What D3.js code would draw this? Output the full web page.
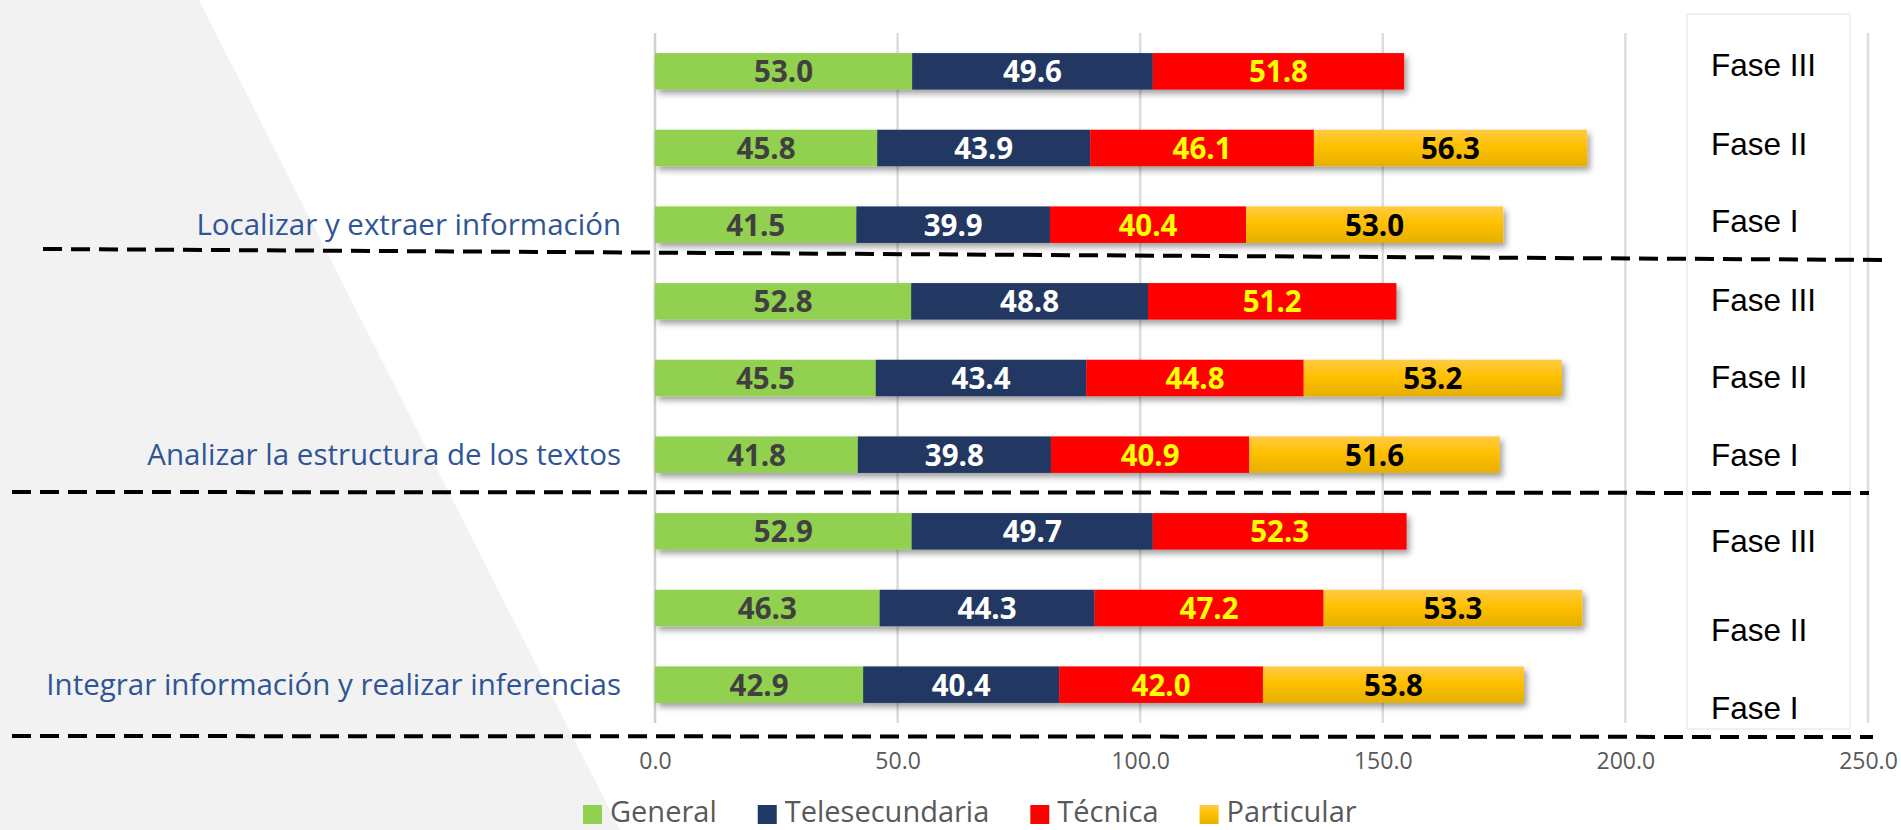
<!DOCTYPE html>
<html>
<head>
<meta charset="utf-8">
<script src="https://cdn.jsdelivr.net/npm/d3@7"></script>
<style>
  body { margin: 0; background: #fff; }
  svg { display: block; }
</style>
</head>
<body>
<svg id="chart"></svg>
<script>
'use strict';

var categories = ['Localizar y extraer información', 'Analizar la estructura de los textos', 'Integrar información y realizar inferencias'];
var phases = ['Fase III', 'Fase II', 'Fase I'];
var series = ['General', 'Telesecundaria', 'Técnica', 'Particular'];

// one value per row, top to bottom (Fase III, II, I of each category)
var general        = [53.0, 45.8, 41.5, 52.8, 45.5, 41.8, 52.9, 46.3, 42.9];
var telesecundaria = [49.6, 43.9, 39.9, 48.8, 43.4, 39.8, 49.7, 44.3, 40.4];
var tecnica        = [51.8, 46.1, 40.4, 51.2, 44.8, 40.9, 52.3, 47.2, 42.0];
var particular     = [null, 56.3, 53.0, null, 53.2, 51.6, null, 53.3, 53.8];

var xTicks = [0, 50, 100, 150, 200, 250];

var colors = { 'General': '#92D050', 'Telesecundaria': '#203864', 'Técnica': '#FF0000', 'Particular': 'url(#gold)' };
var labelColors = { 'General': '#404040', 'Telesecundaria': '#FFFFFF', 'Técnica': '#FFFF00', 'Particular': '#000000' };

var width = 1901;
var height = 830;
var font = '"Open Sans", sans-serif';

var svg = d3.select('#chart')
  .attr('width', width)
  .attr('height', height);

var defs = svg.append('defs');

var gold = defs.append('linearGradient')
  .attr('id', 'gold')
  .attr('x1', 0).attr('y1', 0).attr('x2', 0).attr('y2', 1);
gold.append('stop').attr('offset', '0%').attr('stop-color', '#FFCB45');
gold.append('stop').attr('offset', '45%').attr('stop-color', '#FFC000');
gold.append('stop').attr('offset', '100%').attr('stop-color', '#E6AF00');

var shadow = defs.append('filter')
  .attr('id', 'shadow')
  .attr('x', -0.05).attr('y', -0.5)
  .attr('width', 1.1).attr('height', 2);
shadow.append('feDropShadow')
  .attr('dx', 3).attr('dy', 4)
  .attr('stdDeviation', 3)
  .attr('flood-color', '#000')
  .attr('flood-opacity', 0.38);

// rows: category x phase
var rows = [];
categories.forEach(function(cat, c) {
  phases.forEach(function(phase, p) {
    var i = c * phases.length + p;
    rows.push({
      index: i,
      category: cat,
      phase: phase,
      'General': general[i],
      'Telesecundaria': telesecundaria[i],
      'Técnica': tecnica[i],
      'Particular': particular[i] || 0
    });
  });
});

var x = d3.scaleLinear()
  .domain([0, 250])
  .range([655, 1868]);

var y = d3.scaleBand()
  .domain(rows.map(function(d) { return d.index; }))
  .range([33, 723])
  .paddingInner(0.524)
  .paddingOuter(0.262);

// grey wedge in the background
svg.append('polygon')
  .attr('points', '0,0 199,0 620,830 0,830')
  .attr('fill', '#F2F2F2');

// vertical gridlines
svg.append('g')
  .selectAll('line')
  .data(xTicks)
  .join('line')
  .attr('x1', function(d) { return x(d); })
  .attr('x2', function(d) { return x(d); })
  .attr('y1', y.range()[0])
  .attr('y2', y.range()[1])
  .attr('stroke', function(d) { return d === 0 ? '#D0D0D0' : '#DCDCDC'; })
  .attr('stroke-width', 2.5);

// tick labels
var xAxis = d3.axisBottom(x)
  .tickValues(xTicks)
  .tickFormat(d3.format('.1f'))
  .tickSize(0)
  .tickPadding(0);

var axisG = svg.append('g')
  .attr('transform', 'translate(0,' + 751 + ')')
  .call(xAxis);
axisG.select('.domain').remove();
axisG.selectAll('text')
  .attr('dy', null)
  .attr('y', 18)
  .attr('font-family', font)
  .attr('font-size', 23)
  .attr('fill', '#595959');

// box holding the phase names
svg.append('rect')
  .attr('x', 1687)
  .attr('y', 14)
  .attr('width', 163)
  .attr('height', 715)
  .attr('fill', '#fff')
  .attr('stroke', '#EBEBEB')
  .attr('stroke-width', 1.5);

var faseNudge = [-6, -4, -4, -1, -1, 0, 10, 22, 23];

svg.append('g')
  .selectAll('text')
  .data(rows)
  .join('text')
  .attr('x', 1711)
  .attr('y', function(d) { return y(d.index) + y.bandwidth() / 2 + 11 + faseNudge[d.index]; })
  .attr('font-family', '"Liberation Sans", Arial, sans-serif')
  .attr('font-size', 31.5)
  .attr('fill', '#000')
  .text(function(d) { return d.phase; });

// dashed separators between the categories
var separators = [[43, 249, 1886, 260], [12, 492, 1869, 493], [12, 736, 1873, 737]];

svg.append('g')
  .selectAll('line')
  .data(separators)
  .join('line')
  .attr('x1', function(d) { return d[0]; })
  .attr('y1', function(d) { return d[1]; })
  .attr('x2', function(d) { return d[2]; })
  .attr('y2', function(d) { return d[3]; })
  .attr('stroke', '#000')
  .attr('stroke-width', 4)
  .attr('stroke-dasharray', '19 9');

// category labels, next to the Fase I bar of each group
svg.append('g')
  .selectAll('text')
  .data(rows.filter(function(d) { return d.phase === 'Fase I'; }))
  .join('text')
  .attr('x', 621)
  .attr('y', function(d) { return y(d.index) + y.bandwidth() / 2 + 10.5; })
  .attr('text-anchor', 'end')
  .attr('font-family', font)
  .attr('font-size', 29.5)
  .attr('fill', '#2F5597')
  .text(function(d) { return d.category; });

// stacked bars
var stacked = d3.stack().keys(series)(rows);

var segments = [];
stacked.forEach(function(layer) {
  layer.forEach(function(s) {
    if (s[1] - s[0] > 0) {
      segments.push({ key: layer.key, x0: s[0], x1: s[1], value: s[1] - s[0], index: s.data.index });
    }
  });
});

var rowG = svg.append('g')
  .selectAll('g')
  .data(rows)
  .join('g')
  .attr('filter', 'url(#shadow)');

rowG.selectAll('rect')
  .data(function(r) { return segments.filter(function(s) { return s.index === r.index; }); })
  .join('rect')
  .attr('x', function(d) { return x(d.x0); })
  .attr('y', function(d) { return y(d.index); })
  .attr('width', function(d) { return x(d.x1) - x(d.x0); })
  .attr('height', y.bandwidth())
  .attr('fill', function(d) { return colors[d.key]; });

svg.append('g')
  .selectAll('text')
  .data(segments)
  .join('text')
  .attr('x', function(d) { return (x(d.x0) + x(d.x1)) / 2; })
  .attr('y', function(d) { return y(d.index) + y.bandwidth() / 2 + 11; })
  .attr('text-anchor', 'middle')
  .attr('font-family', font)
  .attr('font-weight', 'bold')
  .attr('font-size', 29.5)
  .attr('fill', function(d) { return labelColors[d.key]; })
  .text(function(d) { return d3.format('.1f')(d.value); });

// legend (kept just inside the bottom edge)
var legend = svg.append('g').attr('transform', 'translate(583,0)');
var lx = 0;
series.forEach(function(name) {
  var item = legend.append('g').attr('transform', 'translate(' + lx + ',0)');
  item.append('rect')
    .attr('x', 0)
    .attr('y', 805)
    .attr('width', 19)
    .attr('height', 19)
    .attr('fill', colors[name]);
  var t = item.append('text')
    .attr('x', 27)
    .attr('y', 822)
    .attr('font-family', font)
    .attr('font-size', 29)
    .attr('fill', '#595959')
    .text(name);
  lx += 27 + t.node().getComputedTextLength() + 41;
});
</script>
</body>
</html>
